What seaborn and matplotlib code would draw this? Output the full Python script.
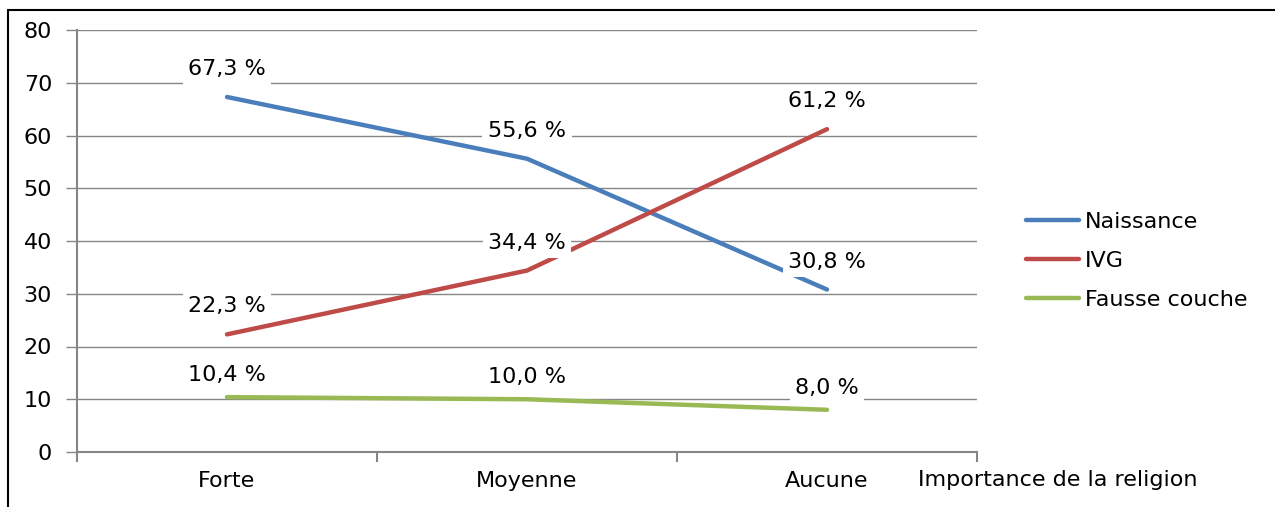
import matplotlib
matplotlib.use("Agg")
import matplotlib.pyplot as plt
from matplotlib.lines import Line2D
from matplotlib.ticker import FixedLocator, NullFormatter
import pandas as pd
import seaborn as sns

categories = ["Forte", "Moyenne", "Aucune"]
naissance = [67.3, 55.6, 30.8]
ivg = [22.3, 34.4, 61.2]
fausse_couche = [10.4, 10.0, 8.0]
series_names = ["Naissance", "IVG", "Fausse couche"]
y_ticks = [0, 10, 20, 30, 40, 50, 60, 70, 80]
x_title = "Importance de la religion"

colors = {"Naissance": "#4A7EBB", "IVG": "#BE4B48", "Fausse couche": "#98B954"}
label_offsets = {"Naissance": 28, "IVG": 28, "Fausse couche": 22}

rows = []
for name, vals in zip(series_names, [naissance, ivg, fausse_couche]):
    for i, (cat, v) in enumerate(zip(categories, vals)):
        rows.append({"pos": i, "cat": cat, "value": v, "serie": name})
df = pd.DataFrame(rows)

FS = 16
sns.set_theme(style="white")
plt.rcParams["font.family"] = ["DejaVu Sans"]
plt.rcParams["font.size"] = FS
plt.rcParams["text.color"] = "black"

fig = plt.figure(figsize=(12.75, 5.07), dpi=100)
ax = fig.add_axes([77 / 1275, 1 - 452 / 507, 900 / 1275, 422 / 507])

grid_color = "#868686"
sns.lineplot(data=df, x="pos", y="value", hue="serie", hue_order=series_names,
             palette=colors, linewidth=3.2, ax=ax, legend=False, zorder=3,
             solid_capstyle="round")

# value labels with white boxes above each point
for name in series_names:
    sub = df[df["serie"] == name]
    for _, r in sub.iterrows():
        txt = f"{r['value']:.1f}".replace(".", ",") + " %"
        ax.annotate(txt, xy=(r["pos"], r["value"]), xytext=(0, label_offsets[name]),
                    textcoords="offset pixels", ha="center", va="center",
                    fontsize=FS, color="black", zorder=5,
                    bbox=dict(boxstyle="square,pad=0.25", fc="white", ec="none"))

ax.set_xlim(-0.5, 2.5)
ax.set_ylim(0, 80)
ax.set_yticks(y_ticks)
ax.set_yticklabels([str(t) for t in y_ticks])
ax.yaxis.grid(True, color=grid_color, linewidth=1)
ax.xaxis.grid(False)
ax.set_axisbelow(True)

ax.set_xticks(range(len(categories)))
ax.set_xticklabels(categories)
ax.xaxis.set_minor_locator(FixedLocator([-0.5, 0.5, 1.5, 2.5]))
ax.xaxis.set_minor_formatter(NullFormatter())
ax.tick_params(axis="x", which="major", length=0, pad=14, labelsize=FS, colors="black")
ax.tick_params(axis="x", which="minor", length=7, width=1.5, color=grid_color, direction="out", bottom=True)
ax.tick_params(axis="y", which="major", length=8, width=1, color=grid_color, direction="out",
               left=True, pad=10, labelsize=FS, labelcolor="black")

for side in ["top", "right"]:
    ax.spines[side].set_visible(False)
for side in ["left", "bottom"]:
    ax.spines[side].set_color(grid_color)
    ax.spines[side].set_linewidth(1.5)

ax.set_ylabel("")
ax.set_xlabel(x_title, ha="left", va="center", fontsize=FS, color="black")
ax.xaxis.set_label_coords((918 - 77) / 900, -28 / 422)

handles = [Line2D([0], [0], color=colors[n], linewidth=3.2, solid_capstyle="round") for n in series_names]
leg = fig.legend(handles, series_names, loc="center left", bbox_to_anchor=(1026 / 1275, 1 - 261 / 507),
                 frameon=False, fontsize=FS, handlelength=2.4, handletextpad=0.25,
                 labelspacing=0.85, borderpad=0, borderaxespad=0)
for t in leg.get_texts():
    t.set_color("black")

# outer frame (left and top edges)
fig.add_artist(Line2D([8 / 1275, 8 / 1275], [0, 1 - 10 / 507], transform=fig.transFigure,
                      color="black", linewidth=1.5))
fig.add_artist(Line2D([8 / 1275, 1], [1 - 10 / 507, 1 - 10 / 507], transform=fig.transFigure,
                      color="black", linewidth=1.5))

fig.savefig("out.png", dpi=100, facecolor="white")
